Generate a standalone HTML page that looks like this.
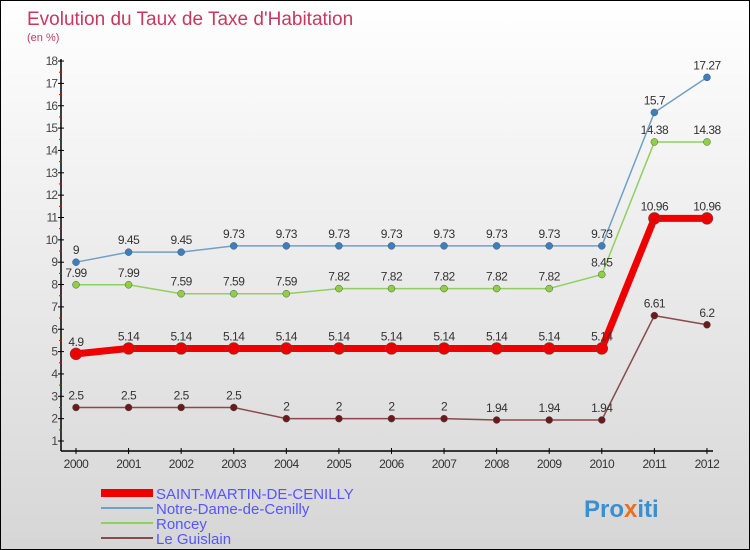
<!DOCTYPE html>
<html><head><meta charset="utf-8"><style>
body{margin:0}
#c{width:748px;height:548px;border:1px solid #000;position:relative;background:linear-gradient(#fff,#d6d6d6);font-family:"Liberation Sans",sans-serif;overflow:hidden}
</style></head><body>
<div id="c">
<svg id="s" width="748" height="548" xmlns="http://www.w3.org/2000/svg">
<text x="26" y="24" font-size="19" fill="#c8385e">Evolution du Taux de Taxe d'Habitation</text>
<text x="26" y="40" font-size="11" fill="#c8385e">(en %)</text>
<g id="axes"></g><g id="series"></g>
<g>
<rect x="100" y="488" width="52" height="8" fill="#e00"/>
<line x1="100" y1="507" x2="152" y2="507" stroke="#6fa0c8" stroke-width="2"/>
<line x1="100" y1="522" x2="152" y2="522" stroke="#8fd060" stroke-width="2"/>
<line x1="100" y1="537" x2="152" y2="537" stroke="#8a4a4a" stroke-width="2"/>
<text x="155" y="498" font-size="15" fill="#5555ff">SAINT-MARTIN-DE-CENILLY</text>
<text x="155" y="513" font-size="15" fill="#5555ff">Notre-Dame-de-Cenilly</text>
<text x="155" y="528" font-size="15" fill="#5555ff">Roncey</text>
<text x="155" y="543" font-size="15" fill="#5555ff">Le Guislain</text>
</g>
<text x="583" y="516" font-size="24" font-weight="bold" fill="#3a8fd0">Pro<tspan fill="#e87020">x</tspan>iti</text>
</svg></div>
<script>
const years=[2000,2001,2002,2003,2004,2005,2006,2007,2008,2009,2010,2011,2012];
const yTicks=[1,2,3,4,5,6,7,8,9,10,11,12,13,14,15,16,17,18];
const saint=[4.9,5.14,5.14,5.14,5.14,5.14,5.14,5.14,5.14,5.14,5.14,10.96,10.96];
const notre=[9,9.45,9.45,9.73,9.73,9.73,9.73,9.73,9.73,9.73,9.73,15.7,17.27];
const roncey=[7.99,7.99,7.59,7.59,7.59,7.82,7.82,7.82,7.82,7.82,8.45,14.38,14.38];
const guis=[2.5,2.5,2.5,2.5,2,2,2,2,1.94,1.94,1.94,6.61,6.2];
const NS="http://www.w3.org/2000/svg";
const X=i=>75+i*52.58, Y=v=>440-(v-1)*22.35;
function mk(t,a,p){const e=document.createElementNS(NS,t);for(const k in a)e.setAttribute(k,a[k]);p.appendChild(e);return e;}
const ax=document.getElementById('axes');
let e=mk('line',{x1:60,y1:58,x2:60,y2:450,stroke:'#000','stroke-width':1.5},ax);

e=mk('line',{x1:60,y1:450,x2:712,y2:450,stroke:'#000','stroke-width':1.5},ax);

yTicks.forEach(v=>{
 mk('line',{x1:57,x2:63,y1:Y(v),y2:Y(v),stroke:'#000'},ax);
 if(v<18)mk('line',{x1:58,x2:61,y1:Y(v+0.5),y2:Y(v+0.5),stroke:'#e00'},ax);
 const t=mk('text',{x:56,y:Y(v)+4,'font-size':12,fill:'#444','text-anchor':'end','letter-spacing':'-1'},ax);t.textContent=v;
 
});
years.forEach((y,i)=>{
 mk('line',{x1:X(i),x2:X(i),y1:447,y2:453,stroke:'#000'},ax);
 const t=mk('text',{x:X(i),y:467,'font-size':12,fill:'#333','text-anchor':'middle','letter-spacing':'-0.5'},ax);t.textContent=y;
 
});
const sg=document.getElementById('series');
function series(d,name,col,dot,w,r){
 const g=mk('g',{},sg);
 mk('polyline',{points:d.map((v,i)=>X(i)+','+Y(v)).join(' '),fill:'none',stroke:col,'stroke-width':w,'stroke-linejoin':'round'},g);
 d.forEach((v,i)=>{
  const c=mk('circle',{cx:X(i),cy:Y(v),r:r,fill:dot,stroke:'#555','stroke-width':0.5},g);
  
  const t=mk('text',{x:X(i),y:Y(v)-8,'font-size':12,fill:'#333','text-anchor':'middle','letter-spacing':'-0.5'},g);t.textContent=v;
 });
}
series(guis,'le-guislain-line','#8a4a4a','#6a1a1a',1.5,3.5);
series(roncey,'roncey-line','#8fd060','#8fd040',1.5,3.5);
series(notre,'notre-dame-line','#6fa0c8','#3a80c0',1.5,3.5);
series(saint,'saint-martin-line','#e00','#e00',7,6);
</script>
</body></html>
